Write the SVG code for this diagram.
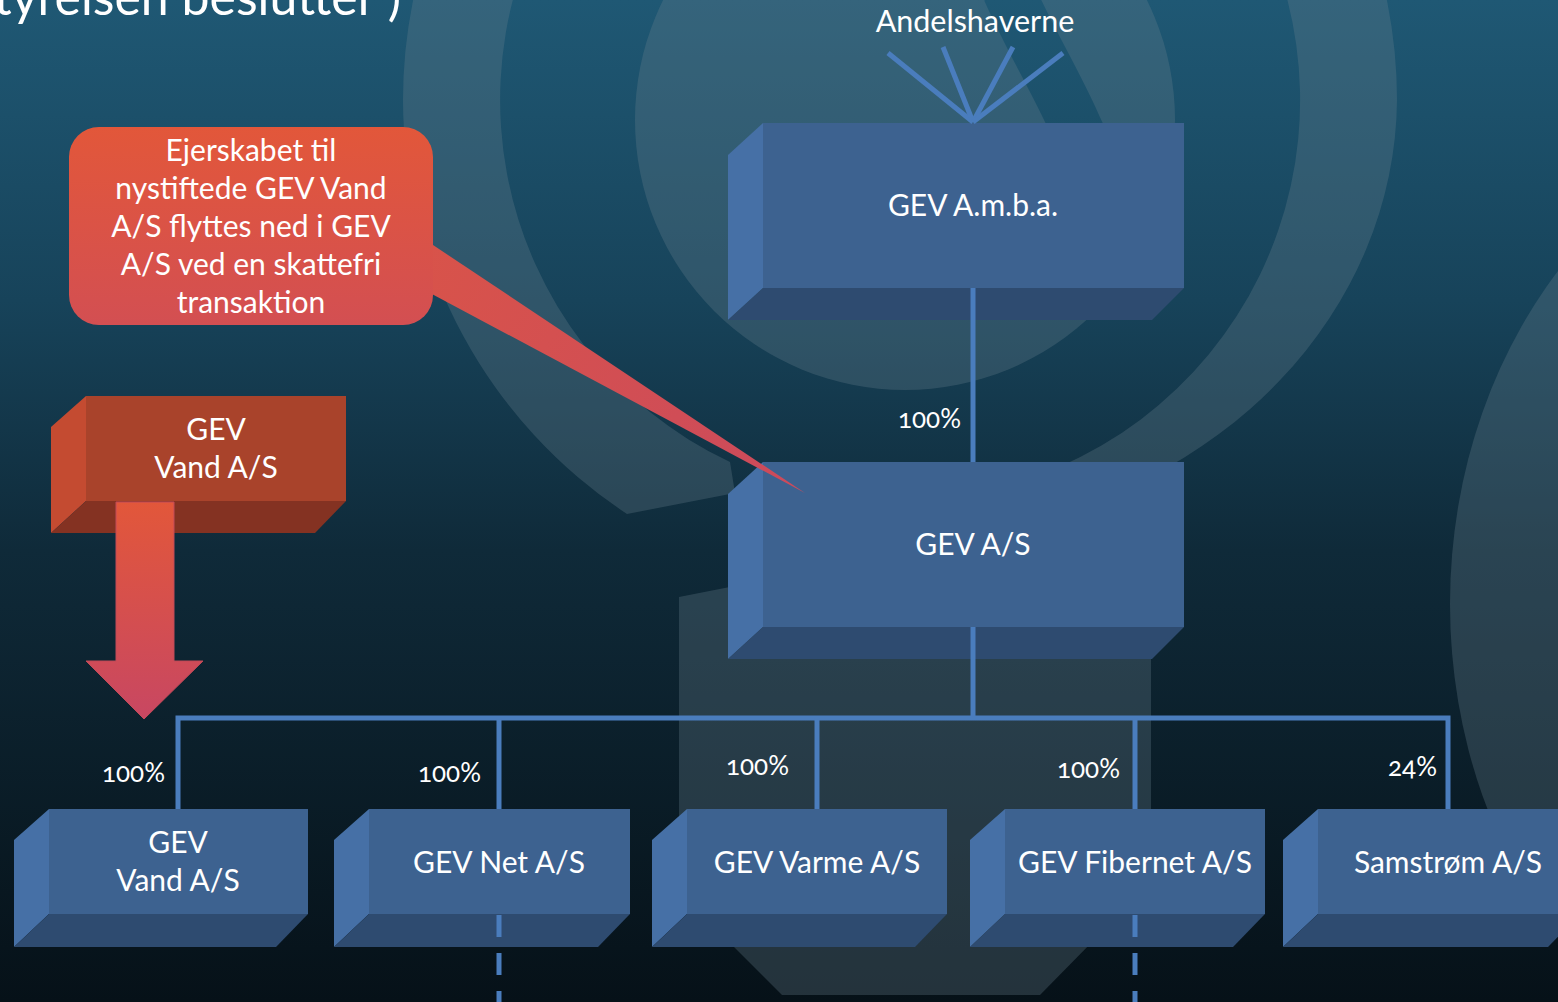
<svg xmlns="http://www.w3.org/2000/svg" width="1558" height="1002" viewBox="0 0 1558 1002">
<defs>
<linearGradient id="bg" x1="0" y1="0" x2="0" y2="1002" gradientUnits="userSpaceOnUse">
<stop offset="0" stop-color="#1f5874"/>
<stop offset="0.3" stop-color="#17435a"/>
<stop offset="0.55" stop-color="#0f2a39"/>
<stop offset="1" stop-color="#061118"/>
</linearGradient>
<linearGradient id="callG" x1="0" y1="0" x2="0" y2="1">
<stop offset="0" stop-color="#e2573a"/>
<stop offset="1" stop-color="#d34f52"/>
</linearGradient>
<linearGradient id="ptrG" x1="433" y1="243" x2="805" y2="493" gradientUnits="userSpaceOnUse">
<stop offset="0" stop-color="#d8534a"/>
<stop offset="1" stop-color="#cc4a5c"/>
</linearGradient>
<linearGradient id="arrG" x1="0" y1="502" x2="0" y2="719" gradientUnits="userSpaceOnUse">
<stop offset="0" stop-color="#e2573a"/>
<stop offset="1" stop-color="#c84762"/>
</linearGradient>
<style>
.deco{fill:#6a8290;opacity:0.3}
.front{fill:#3d6290}
.side{fill:#4670a6}
.base{fill:#2e4b70}
.rfront{fill:#a9432b}
.rside{fill:#c44b31}
.rbase{fill:#843222}
.t{font-family:Lato,"Open Sans","Liberation Sans",sans-serif;fill:#ffffff;text-anchor:middle}
.box{font-size:30px}
.pct{font-size:26px;text-anchor:end;font-variant-numeric:oldstyle-nums}
.call{font-size:30px}
.conn{stroke:#4a7dbd;stroke-width:5;fill:none}
.dash{stroke:#4a7dbd;stroke-width:5;fill:none;stroke-dasharray:22 16}
</style>
</defs>

<g id="background">
<rect x="0" y="0" width="1558" height="1002" fill="url(#bg)"/>
<path class="deco" d="M627,514 A497,497 0 0 1 403,100 A497,497 0 0 1 1397,100 A497,440 0 0 1 986,530 L969,494 A400,400 0 1 0 730,462 L735,493 Z"/>
<circle class="deco" cx="905" cy="120" r="270"/>
<path d="M1008,-10 C1030,40 1055,80 1075,125 L1110,200" stroke="url(#bg)" stroke-width="52" fill="none"/>
<path class="deco" d="M679,597 L740,585 L1151,585 L1151,882 L1040,995 L782,995 L679,892 Z"/>
<ellipse class="deco" cx="1875" cy="604" rx="425" ry="500"/>
<text class="t" x="401" y="15" style="font-size:50px;text-anchor:end">tyrelsen beslutter )</text>
</g>

<g id="node-amba">
<rect class="front" x="763" y="123" width="421" height="165"/>
<polygon class="side" points="728,155 763,123 763,288 728,320"/>
<polygon class="base" points="728,320 763,288 1184,288 1152,320"/>
<text class="t box" x="973" y="216">GEV A.m.b.a.</text>
</g>

<g id="node-gevas">
<rect class="front" x="763" y="462" width="421" height="165"/>
<polygon class="side" points="728,494 763,462 763,627 728,659"/>
<polygon class="base" points="728,659 763,627 1184,627 1152,659"/>
<text class="t box" x="973" y="555">GEV A/S</text>
</g>

<g id="node-vand-red">
<rect class="rfront" x="86" y="396" width="260" height="105"/>
<polygon class="rside" points="51,427 86,396 86,501 51,533"/>
<polygon class="rbase" points="51,533 86,501 346,501 315,533"/>
<text class="t box" x="216" y="440">GEV</text>
<text class="t box" x="216" y="478">Vand A/S</text>
</g>

<g id="node-vand">
<rect class="front" x="49" y="809" width="259" height="105"/>
<polygon class="side" points="14,840 49,809 49,914 14,947"/>
<polygon class="base" points="14,947 49,914 308,914 276,947"/>
<text class="t box" x="178" y="853">GEV</text>
<text class="t box" x="178" y="891">Vand A/S</text>
</g>

<g id="node-net">
<rect class="front" x="369" y="809" width="261" height="105"/>
<polygon class="side" points="334,840 369,809 369,914 334,947"/>
<polygon class="base" points="334,947 369,914 630,914 598,947"/>
<text class="t box" x="499" y="873">GEV Net A/S</text>
</g>

<g id="node-varme">
<rect class="front" x="687" y="809" width="260" height="105"/>
<polygon class="side" points="652,840 687,809 687,914 652,947"/>
<polygon class="base" points="652,947 687,914 947,914 915,947"/>
<text class="t box" x="817" y="873">GEV Varme A/S</text>
</g>

<g id="node-fibernet">
<rect class="front" x="1005" y="809" width="260" height="105"/>
<polygon class="side" points="970,840 1005,809 1005,914 970,947"/>
<polygon class="base" points="970,947 1005,914 1265,914 1233,947"/>
<text class="t box" x="1135" y="873">GEV Fibernet A/S</text>
</g>

<g id="node-samstrom">
<rect class="front" x="1318" y="809" width="262" height="105"/>
<polygon class="side" points="1283,840 1318,809 1318,914 1283,947"/>
<polygon class="base" points="1283,947 1318,914 1580,914 1548,947"/>
<text class="t box" x="1448" y="873">Samstrøm A/S</text>
</g>

<g id="connectors">
<line class="conn" x1="888" y1="53" x2="973" y2="122"/>
<line class="conn" x1="943" y1="47" x2="973" y2="122"/>
<line class="conn" x1="1013" y1="47" x2="973" y2="122"/>
<line class="conn" x1="1063" y1="53" x2="973" y2="122"/>
<line class="conn" x1="973" y1="288" x2="973" y2="462"/>
<line class="conn" x1="973" y1="627" x2="973" y2="718"/>
<polyline class="conn" points="178,809 178,718 1448,718 1448,809"/>
<line class="conn" x1="499" y1="718" x2="499" y2="809"/>
<line class="conn" x1="817" y1="718" x2="817" y2="809"/>
<line class="conn" x1="1135" y1="718" x2="1135" y2="809"/>
<line class="dash" x1="499" y1="915" x2="499" y2="1002"/>
<line class="dash" x1="1135" y1="915" x2="1135" y2="1002"/>
<text class="t pct" x="961" y="428">100%</text>
<text class="t pct" x="165" y="782">100%</text>
<text class="t pct" x="481" y="782">100%</text>
<text class="t pct" x="789" y="775">100%</text>
<text class="t pct" x="1120" y="778">100%</text>
<text class="t pct" x="1437" y="776">24%</text>
<text class="t" x="975" y="32" style="font-size:30.5px">Andelshaverne</text>
</g>

<g id="arrow-down">
<polygon points="116,502 174,502 174,661 203,661 144,719 86,661 116,661" fill="url(#arrG)" stroke="#c04a58" stroke-width="1"/>
</g>

<g id="callout">
<polygon points="430,243 805,493 430,293" fill="url(#ptrG)"/>
<rect x="69" y="127" width="364" height="198" rx="30" ry="30" fill="url(#callG)"/>
<text class="t call" x="251" y="161">Ejerskabet til</text>
<text class="t call" x="251" y="199">nystiftede GEV Vand</text>
<text class="t call" x="251" y="237">A/S flyttes ned i GEV</text>
<text class="t call" x="251" y="275">A/S ved en skattefri</text>
<text class="t call" x="251" y="313">transaktion</text>
</g>
</svg>
